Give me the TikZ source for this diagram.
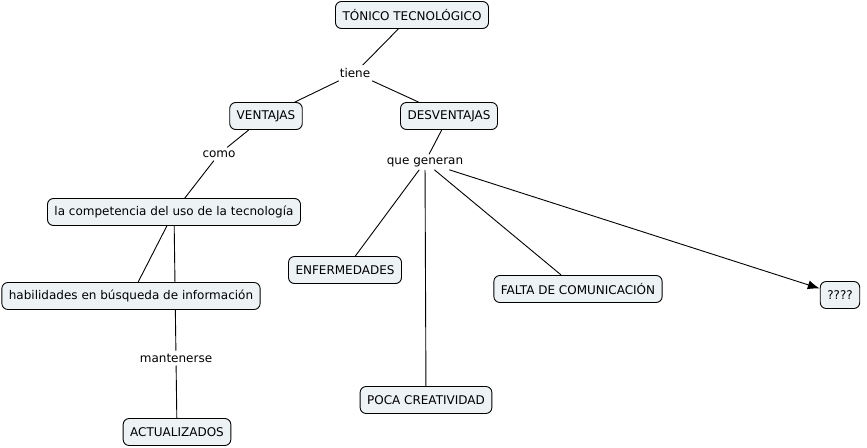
\documentclass[tikz,border=0pt]{standalone}
\usepackage{fontspec}
\setmainfont{DejaVu Sans}
\usepackage{xcolor}
\definecolor{cmapfill}{RGB}{237,242,245}
\usetikzlibrary{arrows.meta,backgrounds}

\begin{document}
\begin{tikzpicture}[x=1pt,y=-1pt,font=\fontsize{12}{14}\selectfont,
  box/.style={draw,line width=0.9pt,fill=cmapfill,rounded corners=6pt,minimum height=27pt,inner xsep=7pt},
  lnk/.style={inner sep=3pt},
  ln/.style={line width=0.9pt},
  arr/.style={-{Latex[length=12pt,width=9pt]},line width=0.9pt}]
  \useasboundingbox (0,0) rectangle (867,447);
  \node[box](tonico) at (412,15){TÓNICO TECNOLÓGICO};
  \node[lnk](tiene) at (355,73){tiene};
  \node[box](vent) at (266,116){VENTAJAS};
  \node[box](desv) at (449,116){DESVENTAJAS};
  \node[lnk](como) at (219,154){como};
  \node[lnk](genera) at (425,162){que generan};
  \node[box](compe) at (174,212){la competencia del uso de la tecnología};
  \node[box](habil) at (131,296){habilidades en búsqueda de información};
  \node[box](enfer) at (345,270){ENFERMEDADES};
  \node[box](falta) at (578,289){FALTA DE COMUNICACIÓN};
  \node[box](preg) at (840,295){????};
  \node[box](poca) at (426,400){POCA CREATIVIDAD};
  \node[lnk](mant) at (176,358){mantenerse};
  \node[box](actu) at (177,432){ACTUALIZADOS};
  \begin{pgfonlayer}{background}
    \draw[ln](tonico)--(tiene);\draw[ln](tiene)--(vent);\draw[ln](tiene)--(desv);
    \draw[ln](vent)--(como);\draw[ln](como)--(compe);
    \draw[ln](desv)--(genera);
    \draw[ln](genera)--(enfer);\draw[ln](genera)--(poca);\draw[ln](genera)--(falta);
    \draw[arr](genera)--(preg);
    \draw[ln](compe)--(habil);\draw[ln](compe)--(mant);\draw[ln](mant)--(actu);
  \end{pgfonlayer}
\end{tikzpicture}
\end{document}
